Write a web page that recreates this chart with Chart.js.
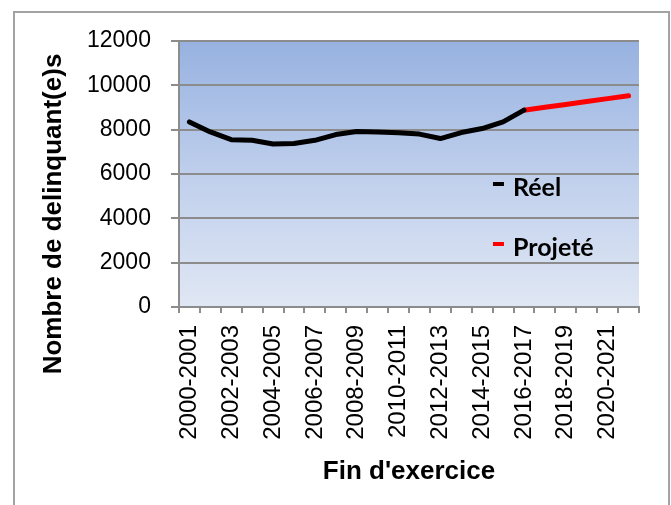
<!DOCTYPE html>
<html>
<head>
<meta charset="utf-8">
<script src="https://cdn.jsdelivr.net/npm/chart.js@4.4.0/dist/chart.umd.min.js"></script>
<style>
  body { margin: 0; background: #fff; }
  #frame { position: absolute; left: 13px; top: 11px; width: 653px; height: 520px; border: 2px solid #a3a3a3; border-bottom: none; }
  #wrap { position: absolute; left: 0; top: 0; width: 671px; height: 505px; }
</style>
</head>
<body>
<div id="frame"></div>
<div id="wrap"><canvas id="delinquants"></canvas></div>
<script>
// fin d'exercice
const years = ["2000-2001", "2001-2002", "2002-2003", "2003-2004", "2004-2005", "2005-2006",
  "2006-2007", "2007-2008", "2008-2009", "2009-2010", "2010-2011", "2011-2012", "2012-2013",
  "2013-2014", "2014-2015", "2015-2016", "2016-2017", "2017-2018", "2018-2019", "2019-2020",
  "2020-2021", "2021-2022"];

// nombre de delinquant(e)s
const reel = [8350, 7900, 7550, 7520, 7350, 7380, 7520, 7780, 7920, 7900, 7860, 7800, 7600,
  7870, 8050, 8350, 8880, null, null, null, null, null];
const projete = [null, null, null, null, null, null, null, null, null, null, null, null, null,
  null, null, null, 8880, 9010, 9140, 9270, 9400, 9530];

const yTicks = [0, 2000, 4000, 6000, 8000, 10000, 12000];
const yTitle = "Nombre de delinquant(e)s";

const gridGray = "#8c8c8c";

//gradient behind the plot
const plotBackground = {
  id: "plotBackground",
  beforeDraw(chart) {
    const {ctx, chartArea: a} = chart;
    const g = ctx.createLinearGradient(0, a.top, 0, a.bottom);
    g.addColorStop(0, "#97b2e0");
    g.addColorStop(0.5, "#bfcfec");
    g.addColorStop(1, "#e0e7f4");
    ctx.save();
    ctx.fillStyle = g;
    ctx.fillRect(a.left, a.top, a.right - a.left, a.bottom - a.top);
    ctx.restore();
  }
};

//legend sits inside the plot, one entry under the other
const innerLegend = {
  id: "innerLegend",
  afterDraw(chart) {
    const {ctx, chartArea: a} = chart;
    ctx.save();
    ctx.font = "bold 25px Lato";
    ctx.textBaseline = "middle";
    chart.data.datasets.forEach(function(ds, i) {
      const y = a.top + 145 + i * 60;
      ctx.strokeStyle = ds.borderColor;
      ctx.lineWidth = 4;
      ctx.beginPath();
      ctx.moveTo(a.left + 314, y - 2);
      ctx.lineTo(a.left + 325, y - 2);
      ctx.stroke();
      ctx.fillStyle = "#000";
      ctx.fillText(ds.label, a.left + 334, y + 2);
    });
    ctx.restore();
  }
};

//y title sits lower than the plot middle, so it is drawn by hand
const yAxisTitle = {
  id: "yAxisTitle",
  afterDraw(chart) {
    const {ctx, chartArea: a} = chart;
    ctx.save();
    ctx.translate(a.left - 125, a.top + 173);
    ctx.rotate(-Math.PI / 2);
    ctx.font = "bold 26px 'Liberation Sans'";
    ctx.textAlign = "center";
    ctx.textBaseline = "middle";
    ctx.fillStyle = "#000";
    ctx.fillText(yTitle, 0, 0);
    ctx.restore();
  }
};

new Chart("delinquants", {
  type: "line",
  data: {
    labels: years,
    datasets: [
      {
        label: "Réel",
        data: reel,
        borderColor: "#000000",
        borderWidth: 5,
        pointRadius: 0,
        borderJoinStyle: "round",
        borderCapStyle: "round",
        spanGaps: false
      },
      {
        label: "Projeté",
        data: projete,
        borderColor: "#ff0000",
        borderWidth: 5,
        pointRadius: 0,
        borderJoinStyle: "round",
        borderCapStyle: "round",
        spanGaps: false
      }
    ]
  },
  options: {
    responsive: true,
    maintainAspectRatio: false,
    animation: false,
    layout: { padding: { left: 67, right: 32, top: 41, bottom: 14 } },
    plugins: {
      legend: { display: false },
      tooltip: { enabled: false }
    },
    scales: {
      x: {
        offset: true,
        grid: { offset: true, drawOnChartArea: false, drawTicks: true, tickLength: 6, color: gridGray, lineWidth: 2 },
        border: { color: gridGray, width: 2 },
        ticks: {
          autoSkip: false,
          minRotation: 90,
          maxRotation: 90,
          padding: 12,
          color: "#000",
          font: { family: "Liberation Sans", size: 24 },
          callback: function(value, index) {
            return index % 2 === 0 ? years[index] : "";
          }
        },
        title: {
          display: true,
          text: "Fin d'exercice",
          color: "#000",
          font: { family: "Liberation Sans", size: 26, weight: "bold" },
          padding: { top: 4, bottom: 4 }
        }
      },
      y: {
        min: 0,
        max: 12000,
        afterBuildTicks: function(axis) {
          axis.ticks = yTicks.map(function(v) { return { value: v }; });
        },
        grid: { color: gridGray, lineWidth: 2, tickLength: 8 },
        border: { color: gridGray, width: 2 },
        ticks: {
          padding: 20,
          color: "#000",
          font: { family: "Liberation Sans", size: 23 },
          callback: function(value) { return String(value); }
        }
      }
    }
  },
  plugins: [plotBackground, innerLegend, yAxisTitle]
});
</script>
</body>
</html>
